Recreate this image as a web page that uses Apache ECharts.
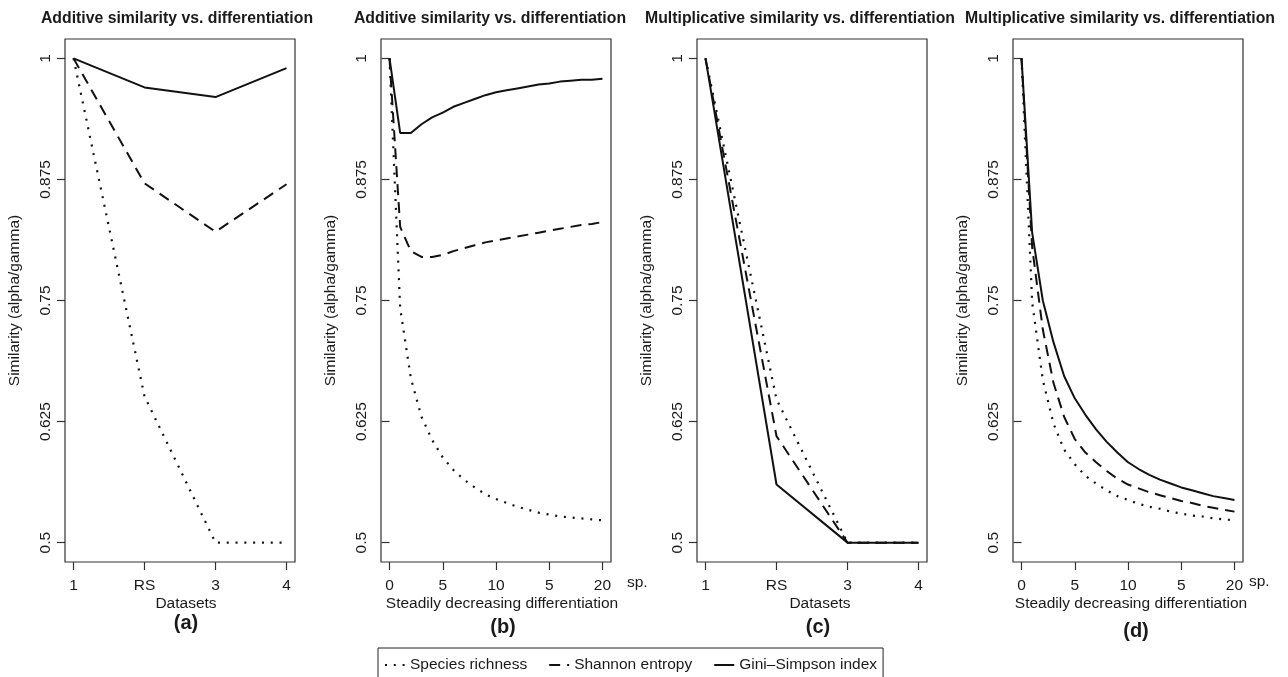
<!DOCTYPE html>
<html>
<head>
<meta charset="utf-8">
<title>Similarity vs. differentiation</title>
<script src="https://cdn.jsdelivr.net/npm/echarts@6/dist/echarts.min.js"></script>
<style>
html, body { margin: 0; padding: 0; background: #fff; }
#chart { width: 1288px; height: 677px; }
</style>
</head>
<body>
<div id="chart"></div>
<script>
// tick values and labels
var datasetTicks = [1, 2, 3, 4];
var datasetLabels = ["1", "RS", "3", "4"];
var speciesTicks = [0, 5, 10, 15, 20];
var speciesLabels = ["0", "5", "10", "5", "20"];
var similarityTicks = [0.5, 0.625, 0.75, 0.875, 1];
var sharedSpecies = [0, 1, 2, 3, 4, 5, 6, 7, 8, 9, 10, 11, 12, 13, 14, 15, 16, 17, 18, 19, 20];

var seriesNames = ["Species richness", "Shannon entropy", "Gini\u2013Simpson index"];

// (a) additive, datasets
var addRichness = [1, 0.651, 0.5, 0.5];
var addShannon = [1, 0.871, 0.821, 0.870];
var addGini = [1, 0.970, 0.960, 0.990];

// (b) additive, steadily decreasing differentiation
var stepRichness = [1, 0.742, 0.670, 0.630, 0.606, 0.588, 0.575, 0.565, 0.557, 0.550, 0.545, 0.541, 0.537, 0.534, 0.531, 0.529, 0.527, 0.526, 0.525, 0.524, 0.523];
var stepShannon = [1, 0.826, 0.801, 0.795, 0.795, 0.797, 0.801, 0.804, 0.807, 0.810, 0.812, 0.814, 0.816, 0.818, 0.820, 0.822, 0.824, 0.826, 0.828, 0.829, 0.831];
var stepGini = [1, 0.923, 0.923, 0.932, 0.939, 0.944, 0.950, 0.954, 0.958, 0.962, 0.965, 0.967, 0.969, 0.971, 0.973, 0.974, 0.976, 0.977, 0.978, 0.978, 0.979];

// (c) multiplicative, datasets
var multRichness = [1, 0.648, 0.5, 0.5];
var multShannon = [1, 0.610, 0.5, 0.5];
var multGini = [1, 0.560, 0.5, 0.5];

// (d) multiplicative, steadily decreasing differentiation
var curveRichness = [1, 0.748, 0.668, 0.623, 0.596, 0.581, 0.569, 0.561, 0.554, 0.548, 0.544, 0.540, 0.537, 0.535, 0.532, 0.530, 0.528, 0.527, 0.525, 0.524, 0.523];
var curveShannon = [1, 0.805, 0.720, 0.665, 0.630, 0.607, 0.593, 0.583, 0.574, 0.566, 0.560, 0.556, 0.552, 0.549, 0.546, 0.543, 0.541, 0.538, 0.536, 0.534, 0.532];
var curveGini = [1, 0.820, 0.750, 0.707, 0.672, 0.649, 0.632, 0.617, 0.604, 0.593, 0.583, 0.576, 0.570, 0.565, 0.561, 0.557, 0.554, 0.551, 0.548, 0.546, 0.544];

var FONT = '"Liberation Sans", Arial, Helvetica, sans-serif';
var INK = "#1a1a1a";

var panels = [
    {title: "Additive similarity vs. differentiation", titleX: 177, xlab: "Datasets", xlabX: 186, letter: "(a)", letterX: 186, letterY: 623,
     x: datasetTicks, ticks: datasetTicks, labels: datasetLabels, min: 0.88, max: 4.12, lines: [addRichness, addShannon, addGini]},
    {title: "Additive similarity vs. differentiation", titleX: 490, xlab: "Steadily decreasing differentiation", xlabX: 502, letter: "(b)", letterX: 503, letterY: 627,
     x: sharedSpecies, ticks: speciesTicks, labels: speciesLabels, min: -0.8, max: 20.8, lines: [stepRichness, stepShannon, stepGini], sp: [627, 583]},
    {title: "Multiplicative similarity vs. differentiation", titleX: 800, xlab: "Datasets", xlabX: 820, letter: "(c)", letterX: 818, letterY: 627,
     x: datasetTicks, ticks: datasetTicks, labels: datasetLabels, min: 0.88, max: 4.12, lines: [multRichness, multShannon, multGini]},
    {title: "Multiplicative similarity vs. differentiation", titleX: 1120, xlab: "Steadily decreasing differentiation", xlabX: 1131, letter: "(d)", letterX: 1136, letterY: 631,
     x: sharedSpecies, ticks: speciesTicks, labels: speciesLabels, min: -0.8, max: 20.8, lines: [curveRichness, curveShannon, curveGini], sp: [1249, 582]}
];
var gridLefts = [65, 381, 697, 1013];

var lineStyles = [
    {color: "#111", width: 2.2, type: [2, 6.8], cap: "butt"},
    {color: "#111", width: 2, type: [11, 7]},
    {color: "#111", width: 2, type: "solid"}
];

var grids = [], xAxes = [], yAxes = [], series = [], texts = [];

panels.forEach(function(p, i){
    grids.push({left: gridLefts[i], top: 39, width: 230, height: 523, show: true,
        borderColor: "#333", borderWidth: 1.2, backgroundColor: "transparent"});

    xAxes.push({
        type: "value", gridIndex: i, min: p.min, max: p.max,
        axisLine: {show: false},
        splitLine: {show: false},
        axisTick: {show: true, length: 8, customValues: p.ticks, lineStyle: {color: "#333", width: 1.2}},
        axisLabel: {
            customValues: p.ticks, margin: 16, fontSize: 15.5, color: INK, fontFamily: FONT,
            formatter: function(v){
                var k = p.ticks.indexOf(v);
                return k >= 0 ? p.labels[k] : "";
            }
        }
    });

    yAxes.push({
        type: "value", gridIndex: i, min: 0.48, max: 1.02,
        name: "Similarity (alpha/gamma)", nameLocation: "middle", nameGap: 42, nameRotate: 90,
        nameTextStyle: {fontSize: 15.5, color: INK, fontFamily: FONT},
        axisLine: {show: false},
        splitLine: {show: false},
        axisTick: {show: true, length: 8, customValues: similarityTicks, lineStyle: {color: "#333", width: 1.2}},
        axisLabel: {customValues: similarityTicks, rotate: 90, margin: 11, fontSize: 15.5, color: INK, fontFamily: FONT}
    });

    p.lines.forEach(function(values, k){
        series.push({
            name: seriesNames[k], type: "line", xAxisIndex: i, yAxisIndex: i,
            symbol: "none", smooth: false, silent: true,
            lineStyle: lineStyles[k],
            itemStyle: {color: "#111"},
            data: values.map(function(v, j){ return [p.x[j], v]; })
        });
    });

    texts.push({type: "text", x: p.titleX, y: 19, style: {text: p.title, font: "bold 15.8px " + FONT,
        fill: INK, textAlign: "center", textVerticalAlign: "middle"}});
    texts.push({type: "text", x: p.xlabX, y: 604, style: {text: p.xlab, font: "15.5px " + FONT,
        fill: INK, textAlign: "center", textVerticalAlign: "middle"}});
    texts.push({type: "text", x: p.letterX, y: p.letterY, style: {text: p.letter, font: "bold 20px " + FONT,
        fill: INK, textAlign: "center", textVerticalAlign: "middle"}});
    if(p.sp){
        texts.push({type: "text", x: p.sp[0], y: p.sp[1], style: {text: "sp.", font: "15.5px " + FONT,
            fill: INK, textAlign: "left", textVerticalAlign: "middle"}});
    }
});

var myChart = echarts.init(document.getElementById("chart"), null, {renderer: "canvas"});
var option = {
    backgroundColor: "#fff",
    animation: false,
    textStyle: {fontFamily: FONT},
    legend: {
        data: seriesNames,
        top: 648, left: 378,
        itemWidth: 20, itemHeight: 14, itemGap: 21,
        padding: [9, 6, 9, 6],
        borderColor: "#222", borderWidth: 1,
        selectedMode: false,
        itemStyle: {opacity: 0},
        textStyle: {fontSize: 15.5, color: INK, fontFamily: FONT}
    },
    grid: grids,
    xAxis: xAxes,
    yAxis: yAxes,
    series: series,
    graphic: texts
};
myChart.setOption(option);
</script>
</body>
</html>
